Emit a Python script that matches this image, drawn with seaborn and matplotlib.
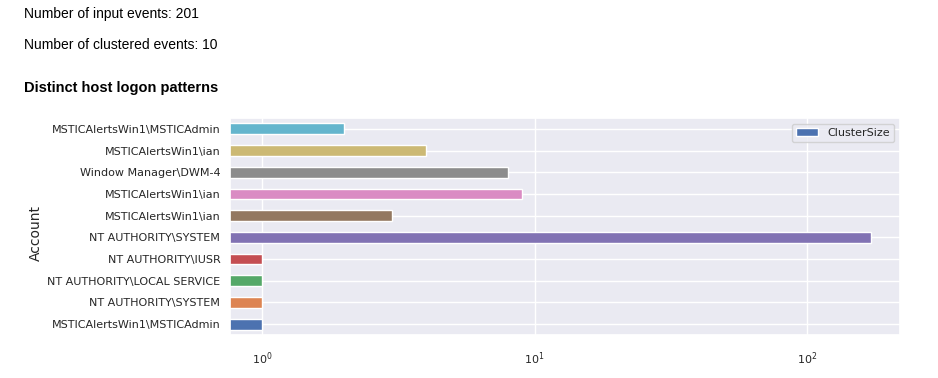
import pandas as pd
import numpy as np
import matplotlib
matplotlib.use("Agg")
import matplotlib.pyplot as plt
import seaborn as sns

# accounts listed bottom to top, as in the chart
accounts = [
    "MSTICAlertsWin1\\MSTICAdmin",
    "NT AUTHORITY\\SYSTEM",
    "NT AUTHORITY\\LOCAL SERVICE",
    "NT AUTHORITY\\IUSR",
    "NT AUTHORITY\\SYSTEM",
    "MSTICAlertsWin1\\ian",
    "MSTICAlertsWin1\\ian",
    "Window Manager\\DWM-4",
    "MSTICAlertsWin1\\ian",
    "MSTICAlertsWin1\\MSTICAdmin",
]
cluster_size = [1, 1, 1, 1, 171, 3, 9, 8, 4, 2]
n_input = 201
n_clustered = 10

sns.set_theme(style="darkgrid")

df = pd.DataFrame({"key": [str(i) for i in range(len(accounts))],
                   "Account": accounts,
                   "ClusterSize": cluster_size})
colors = sns.color_palette("deep", len(accounts))
pal = dict(zip(df["key"], colors))
order = list(df["key"])[::-1]  # top of chart first

fig = plt.figure(figsize=(9.38, 3.78), dpi=100)
ax = fig.add_axes([0.2452, 0.1138, 0.7143, 0.574])

sns.barplot(data=df, x="ClusterSize", y="key", hue="key", order=order,
            hue_order=order, palette=pal, orient="h", dodge=False,
            width=0.5, errorbar=None, legend=False, ax=ax, saturation=1,
            linewidth=1, edgecolor="white")
ax.set_xscale("log")
ax.set_xlim(0.763, 219)
ax.set_ylim(len(accounts) - 0.5, -0.5)
ax.yaxis.grid(True)
ax.set_yticks(range(len(accounts)))
ax.set_yticklabels(accounts[::-1], fontsize=8)
ax.tick_params(axis="y", length=0, pad=7)
ax.tick_params(axis="x", labelsize=8, length=0, pad=11)
ax.set_xlabel("")
ax.set_ylabel("Account", fontsize=10)
ax.yaxis.set_label_coords(-0.28, 0.47)

handle = plt.Rectangle((0, 0), 1, 1, facecolor=colors[0], edgecolor="white")
ax.legend([handle], ["ClusterSize"], loc="upper right", fontsize=8)

fig.text(0.0256, 0.952, f"Number of input events: {n_input}",
         family="Liberation Sans", fontsize=10, color="black", va="baseline")
fig.text(0.0256, 0.870, f"Number of clustered events: {n_clustered}",
         family="Liberation Sans", fontsize=10, color="black", va="baseline")
fig.text(0.0256, 0.757, "Distinct host logon patterns", color="black",
         family="Liberation Sans", fontsize=10.5, fontweight="bold", va="baseline")

fig.savefig("out.png", dpi=100)
